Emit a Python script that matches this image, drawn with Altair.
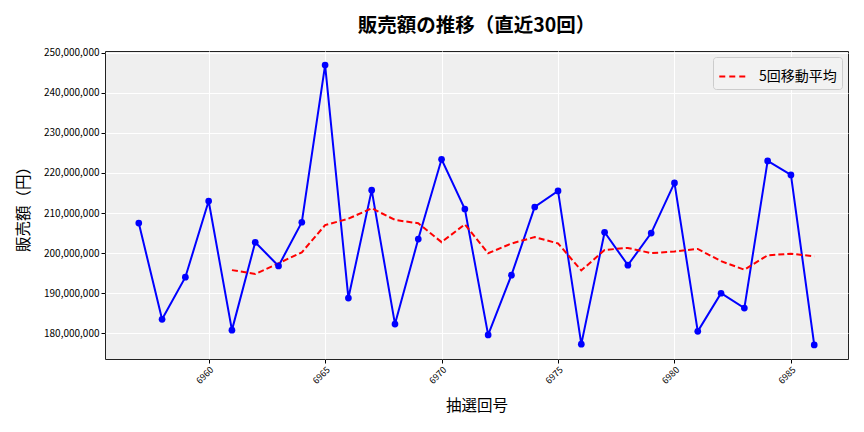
import altair as alt
import pandas as pd

draws = list(range(6957, 6987))
sales = [
    207.5, 183.5, 194.0, 213.0, 180.8, 202.7, 196.8, 207.7, 246.9, 188.8,
    215.7, 182.3, 203.5, 223.4, 211.0, 179.6, 194.5, 211.5, 215.5, 177.3,
    205.2, 197.0, 205.0, 217.5, 180.5, 190.0, 186.3, 223.0, 219.5, 177.1,
]
sales = [v * 1_000_000 for v in sales]

df = pd.DataFrame({"draw": draws, "sales": sales})

jp = "Noto Sans CJK JP"

x = alt.X("draw:Q", title="抽選回号",
          scale=alt.Scale(domain=[6955.55, 6987.45], nice=False, zero=False),
          axis=alt.Axis(values=[6960, 6965, 6970, 6975, 6980, 6985], format="d",
                        labelAngle=-45, labelAlign="right", labelBaseline="top",
                        labelFontSize=9))


def y_enc(field):
    return alt.Y(field, title="販売額（円）",
                 scale=alt.Scale(domain=[173.6e6, 250.4e6], nice=False, zero=False),
                 axis=alt.Axis(values=[v * 10_000_000 for v in range(18, 26)],
                               format=",.0f", labelFontSize=10))


base = alt.Chart(df)

line = base.mark_line(color="#0000ff", strokeWidth=2).encode(x=x, y=y_enc("sales:Q"))
points = base.mark_circle(color="#0000ff", size=45, opacity=1).encode(x=x, y=y_enc("sales:Q"))

ma = base.transform_window(
    ma="mean(sales)", n="count()", frame=[-4, 0]
).transform_filter("datum.n >= 5").transform_calculate(
    series="'5回移動平均'"
).mark_line(strokeWidth=2, strokeDash=[6, 3]).encode(
    x=x,
    y=y_enc("ma:Q"),
    color=alt.Color("series:N", title=None,
                    scale=alt.Scale(domain=["5回移動平均"], range=["#ff0000"]),
                    legend=alt.Legend(orient="top-right", symbolType="stroke",
                                      symbolDash=[6, 4], symbolStrokeWidth=2,
                                      symbolSize=700, labelFontSize=14, labelFont=jp,
                                      labelOffset=12,
                                      fillColor="#f2f2f2", strokeColor="#cccccc",
                                      padding=5, cornerRadius=3,
                                      offset=6)),
)

chart = (line + ma + points).properties(
    width=743,
    height=308,
    padding={"left": 8, "top": 8, "right": 5, "bottom": 5},
    title=alt.TitleParams("販売額の推移（直近30回）", font=jp, fontSize=19.5,
                          fontWeight="bold", anchor="middle", offset=11),
).configure_view(
    fill="#efefef", stroke="#222222", strokeWidth=1
).configure_axis(
    grid=True, gridColor="#ffffff", gridWidth=1, domain=False,
    labelFont=jp, labelColor="#000000",
    titleFont=jp, titleFontSize=15.5, titleFontWeight="normal", titleColor="#000000",
    tickColor="#000000", tickSize=4,
).configure_axisX(titlePadding=13).configure_axisY(titlePadding=12)

chart.save("out.html", embed_options={"renderer": "svg", "actions": False})
